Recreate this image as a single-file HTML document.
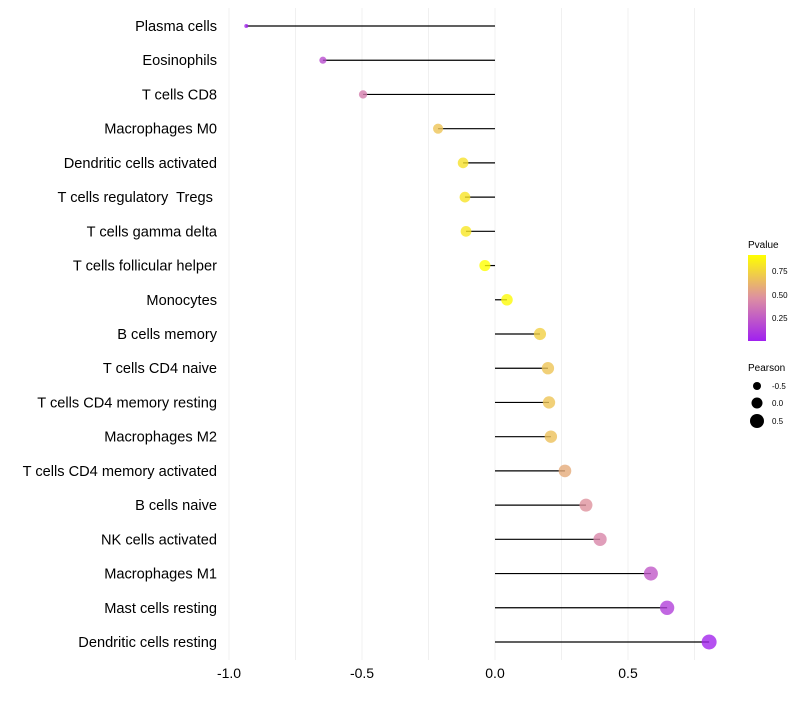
<!DOCTYPE html>
<html><head><meta charset="utf-8"><style>
body{margin:0;background:#fff;font-family:"Liberation Sans",sans-serif}
text{white-space:pre}
</style></head><body>
<svg id="chart" width="800" height="700" xmlns="http://www.w3.org/2000/svg" style="font-family:'Liberation Sans',sans-serif">
<defs><linearGradient id="pg" x1="0" y1="1" x2="0" y2="0">
<stop offset="0" stop-color="#A020F0"/><stop offset="0.5" stop-color="#DD8FA2"/><stop offset="1" stop-color="#FFFF00"/></linearGradient></defs>
<g id="grid"></g>
<g id="marks"></g>
<g id="legend">
<text x="748" y="248" font-size="10">Pvalue</text>
<rect x="748" y="255" width="18" height="86" fill="url(#pg)"/>
<text x="772" y="274" font-size="8">0.75</text>
<text x="772" y="298" font-size="8">0.50</text>
<text x="772" y="321" font-size="8">0.25</text>
<text x="748" y="371" font-size="10">Pearson</text>
<circle cx="757" cy="386" r="4" fill="#000"/>
<text x="772" y="389" font-size="8">-0.5</text>
<circle cx="757" cy="403" r="5.5" fill="#000"/>
<text x="772" y="406" font-size="8">0.0</text>
<circle cx="757" cy="421" r="7" fill="#000"/>
<text x="772" y="424" font-size="8">0.5</text>
</g>
</svg>
<script>
const categories=["Plasma cells","Eosinophils","T cells CD8","Macrophages M0","Dendritic cells activated","T cells regulatory  Tregs ","T cells gamma delta","T cells follicular helper","Monocytes","B cells memory","T cells CD4 naive","T cells CD4 memory resting","Macrophages M2","T cells CD4 memory activated","B cells naive","NK cells activated","Macrophages M1","Mast cells resting","Dendritic cells resting"];
const pearson=[-0.935,-0.647,-0.496,-0.214,-0.12,-0.113,-0.109,-0.038,0.045,0.169,0.199,0.203,0.21,0.263,0.342,0.395,0.586,0.647,0.805];
const pvalue=[0.03,0.2,0.4,0.68,0.8,0.81,0.82,0.92,0.9,0.73,0.68,0.68,0.67,0.58,0.48,0.43,0.25,0.15,0.04];
const xTicks=[-1.0,-0.5,0.0,0.5];
const xTickLabels=["-1.0","-0.5","0.0","0.5"];
const NS="http://www.w3.org/2000/svg";
const x=v=>495+v*266;
const y=i=>26+i*(616/18);
function mk(t,a,p){const e=document.createElementNS(NS,t);for(const k in a)e.setAttribute(k,a[k]);p.appendChild(e);return e;}
function lerp(a,b,t){return a.map((v,i)=>Math.round(v+(b[i]-v)*t));}
function col(p){let t=(p-0.016)/(0.92-0.016);t=Math.max(0,Math.min(1,t));const A=[160,32,240],M=[221,143,162],B=[255,255,0];const c=t<0.5?lerp(A,M,t*2):lerp(M,B,(t-0.5)*2);return `rgb(${c})`;}
const grid=document.getElementById('grid'),marks=document.getElementById('marks');
for(let v=-1;v<=0.8;v+=0.25){const g=mk('line',{x1:x(v),x2:x(v),y1:8,y2:660,stroke:'#f0f0f0','stroke-width':1},grid);

}
xTicks.forEach((v,i)=>{const t=mk('text',{x:x(v),y:678,'font-size':14,'text-anchor':'middle',fill:'#000'},grid);t.textContent=xTickLabels[i];

});
const pmin=Math.min(...pearson);
categories.forEach((c,i)=>{
const t=mk('text',{x:217,y:y(i)+5,'font-size':14.6,'text-anchor':'end',fill:'#000'},marks);t.textContent=c;


const l=mk('line',{x1:x(0),x2:x(pearson[i]),y1:y(i),y2:y(i),stroke:'#000','stroke-width':1.2},marks);


const r=Math.sqrt(4+30*(pearson[i]-pmin));
const d=mk('circle',{cx:x(pearson[i]),cy:y(i),r:r,fill:col(pvalue[i]),'fill-opacity':0.8},marks);


});
</script>
</body></html>
